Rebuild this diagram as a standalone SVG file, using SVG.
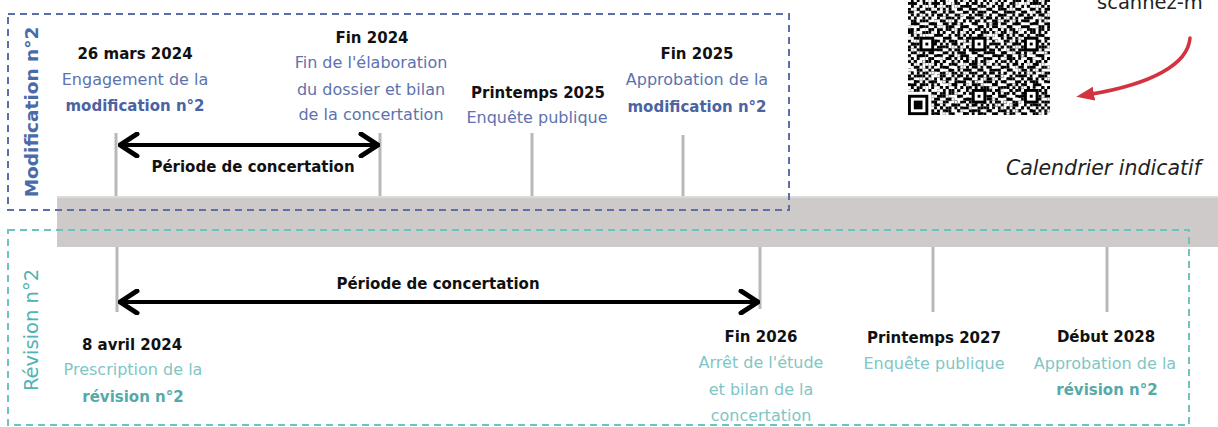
<svg xmlns="http://www.w3.org/2000/svg" width="1218" height="427" viewBox="0 0 1218 427">
<style>
text{font-family:"DejaVu Sans","Liberation Sans",sans-serif;text-anchor:middle}
.h{font-weight:bold;font-size:15px;fill:#111}
.b{font-size:16px;fill:#5d72ae}
.bb{font-size:15px;font-weight:bold;fill:#4b62a3}
.t{font-size:16px;fill:#7fc6c4}
.tb{font-size:15px;font-weight:bold;fill:#55aaa8}
.tick{stroke:#b8b8b8;stroke-width:3}
.dbl{stroke:#000;stroke-width:4;fill:none;marker-start:url(#chev);marker-end:url(#chev)}
.w{fill:#fff}
</style>
<defs>
<marker id="chev" viewBox="0 0 22 26" refX="20" refY="13" markerWidth="22" markerHeight="26" markerUnits="userSpaceOnUse" orient="auto-start-reverse">
<path d="M3,2 L20,13 L3,24" fill="none" stroke="#000" stroke-width="5" stroke-linecap="round" stroke-linejoin="round"/>
</marker>
<marker id="redhead" viewBox="0 0 18 14" refX="2" refY="7" markerWidth="18" markerHeight="14" markerUnits="userSpaceOnUse" orient="auto">
<path d="M0,0 L18,7 L0,14 z" fill="#d2343f"/>
</marker>
<pattern id="qa" patternUnits="userSpaceOnUse" x="908" y="-27" width="14.5" height="14.5">
<rect x="0" y="0" width="2.95" height="2.95"/><rect x="5.8" y="0" width="2.95" height="2.95"/>
<rect x="2.9" y="2.9" width="2.95" height="2.95"/><rect x="11.6" y="2.9" width="2.95" height="2.95"/>
<rect x="5.8" y="5.8" width="5.85" height="2.95"/>
<rect x="0" y="8.7" width="2.95" height="2.95"/><rect x="11.6" y="8.7" width="2.95" height="2.95"/>
<rect x="2.9" y="11.6" width="2.95" height="2.95"/><rect x="8.7" y="11.6" width="2.95" height="2.95"/>
</pattern>
<pattern id="qb" patternUnits="userSpaceOnUse" x="908" y="-27" width="20.3" height="20.3">
<rect x="8.7" y="0" width="5.85" height="2.95"/>
<rect x="0" y="2.9" width="2.95" height="2.95"/><rect x="17.4" y="2.9" width="2.95" height="2.95"/>
<rect x="5.8" y="5.8" width="2.95" height="2.95"/><rect x="14.5" y="5.8" width="2.95" height="2.95"/>
<rect x="2.9" y="8.7" width="5.85" height="2.95"/>
<rect x="11.6" y="11.6" width="2.95" height="2.95"/><rect x="17.4" y="11.6" width="2.95" height="2.95"/>
<rect x="0" y="14.5" width="2.95" height="2.95"/><rect x="8.7" y="14.5" width="2.95" height="2.95"/>
<rect x="2.9" y="17.4" width="2.95" height="2.95"/><rect x="14.5" y="17.4" width="2.95" height="2.95"/>
</pattern>
<pattern id="qc" patternUnits="userSpaceOnUse" x="908" y="-27" width="31.9" height="31.9">
<rect class="w" x="0" y="0" width="2.9" height="2.9"/><rect class="w" x="14.5" y="0" width="2.9" height="2.9"/>
<rect class="w" x="23.2" y="2.9" width="2.9" height="2.9"/><rect class="w" x="5.8" y="2.9" width="2.9" height="2.9"/>
<rect class="w" x="29" y="5.8" width="2.9" height="2.9"/><rect class="w" x="11.6" y="8.7" width="2.9" height="2.9"/>
<rect class="w" x="20.3" y="8.7" width="2.9" height="2.9"/><rect class="w" x="2.9" y="11.6" width="2.9" height="2.9"/>
<rect class="w" x="26.1" y="14.5" width="2.9" height="2.9"/><rect class="w" x="8.7" y="14.5" width="2.9" height="2.9"/>
<rect class="w" x="17.4" y="17.4" width="2.9" height="2.9"/><rect class="w" x="0" y="20.3" width="2.9" height="2.9"/>
<rect class="w" x="29" y="20.3" width="2.9" height="2.9"/><rect class="w" x="14.5" y="23.2" width="2.9" height="2.9"/>
<rect class="w" x="5.8" y="26.1" width="2.9" height="2.9"/><rect class="w" x="23.2" y="26.1" width="2.9" height="2.9"/>
<rect class="w" x="11.6" y="29" width="2.9" height="2.9"/><rect class="w" x="20.3" y="29" width="2.9" height="2.9"/>
</pattern>
</defs>
<rect width="1218" height="427" fill="#fff"/>
<g id="band"><rect x="57" y="196" width="1161" height="51" fill="#cdcac9"/><rect x="57" y="196" width="1161" height="2" fill="#dddbda"/></g>
<g id="box-modification">
<rect x="8" y="14" width="781" height="196" fill="none" stroke="#5a70a6" stroke-width="2" stroke-dasharray="7 5"/>
<text transform="translate(38,112) rotate(-90)" style="font-size:18.5px;font-weight:bold;fill:#4a6aa8">Modification n°2</text>
</g>
<g id="box-revision">
<rect x="8" y="230" width="1181" height="195" fill="none" stroke="#6cc3c0" stroke-width="2" stroke-dasharray="7 5"/>
<text transform="translate(38,330) rotate(-90)" style="font-size:19.5px;fill:#4fb3b3">Révision n°2</text>
</g>
<g id="qr">
<rect x="908" y="-27" width="142" height="142" fill="#fff"/>
<rect x="908" y="-27" width="142" height="142" fill="url(#qa)"/>
<rect x="908" y="-27" width="142" height="142" fill="url(#qb)"/>
<rect x="908" y="-27" width="142" height="142" fill="url(#qc)"/>
<rect x="925.4" y="-3.8" width="2.9" height="95.7" fill="#fff"/>
<line x1="926.85" y1="-3.8" x2="926.85" y2="89" stroke="#000" stroke-width="2.9" stroke-dasharray="2.9 2.9"/>
<rect x="908" y="91.9" width="23.2" height="23.2" fill="#fff"/>
<rect x="908" y="94.8" width="20.3" height="20.3" fill="#000"/>
<rect x="910.9" y="97.7" width="14.5" height="14.5" fill="#fff"/>
<rect x="913.8" y="100.6" width="8.7" height="8.7" fill="#000"/>
<g>
<rect x="919.6" y="36.8" width="14.5" height="14.5" fill="#000"/><rect x="922.5" y="39.7" width="8.7" height="8.7" fill="#fff"/><rect x="925.4" y="42.6" width="2.9" height="2.9" fill="#000"/>
<rect x="971.8" y="36.8" width="14.5" height="14.5" fill="#000"/><rect x="974.7" y="39.7" width="8.7" height="8.7" fill="#fff"/><rect x="977.6" y="42.6" width="2.9" height="2.9" fill="#000"/>
<rect x="1024" y="36.8" width="14.5" height="14.5" fill="#000"/><rect x="1026.9" y="39.7" width="8.7" height="8.7" fill="#fff"/><rect x="1029.8" y="42.6" width="2.9" height="2.9" fill="#000"/>
<rect x="971.8" y="89" width="14.5" height="14.5" fill="#000"/><rect x="974.7" y="91.9" width="8.7" height="8.7" fill="#fff"/><rect x="977.6" y="94.8" width="2.9" height="2.9" fill="#000"/>
<rect x="1024" y="89" width="14.5" height="14.5" fill="#000"/><rect x="1026.9" y="91.9" width="8.7" height="8.7" fill="#fff"/><rect x="1029.8" y="94.8" width="2.9" height="2.9" fill="#000"/>
</g>
</g>
<g id="scan-label"><text x="1097" y="9" style="text-anchor:start;font-size:19.5px;fill:#222">scannez-m</text></g>
<g id="calendrier"><text x="1201" y="175" style="text-anchor:end;font-size:20.5px;font-style:italic;fill:#222">Calendrier indicatif</text></g>
<g id="connectors">
<line class="tick" x1="116" y1="133" x2="116" y2="196"/>
<line class="tick" x1="380" y1="133" x2="380" y2="196"/>
<line class="tick" x1="532" y1="133" x2="532" y2="196"/>
<line class="tick" x1="683" y1="135" x2="683" y2="196"/>
<line class="tick" x1="117" y1="247" x2="117" y2="312"/>
<line class="tick" x1="760" y1="247" x2="760" y2="309"/>
<line class="tick" x1="933" y1="247" x2="933" y2="312"/>
<line class="tick" x1="1107" y1="247" x2="1107" y2="312"/>
<line class="dbl" x1="120" y1="145" x2="378" y2="145"/>
<line class="dbl" x1="120" y1="302" x2="758" y2="302"/>
<path d="M1190,38 C1188,65 1150,84 1092,94" fill="none" stroke="#d2343f" stroke-width="3.5" stroke-linecap="round" marker-end="url(#redhead)"/>
</g>
<g id="period-mod"><text class="h" x="253" y="172">Période de concertation</text></g>
<g id="period-rev"><text class="h" x="438" y="289">Période de concertation</text></g>
<g id="ev-mod-1">
<text class="h" x="135" y="59">26 mars 2024</text>
<text class="b" x="135" y="85">Engagement de la</text>
<text class="bb" x="135" y="111">modification n°2</text>
</g>
<g id="ev-mod-2">
<text class="h" x="372" y="43">Fin 2024</text>
<text class="b" x="371" y="68">Fin de l'élaboration</text>
<text class="b" x="371" y="95">du dossier et bilan</text>
<text class="b" x="371" y="120">de la concertation</text>
</g>
<g id="ev-mod-3">
<text class="h" x="538" y="98">Printemps 2025</text>
<text class="b" x="537" y="123">Enquête publique</text>
</g>
<g id="ev-mod-4">
<text class="h" x="697" y="59">Fin 2025</text>
<text class="b" x="697" y="85">Approbation de la</text>
<text class="bb" x="697" y="112">modification n°2</text>
</g>
<g id="ev-rev-1">
<text class="h" x="132" y="350">8 avril 2024</text>
<text class="t" x="133" y="375">Prescription de la</text>
<text class="tb" x="133" y="402">révision n°2</text>
</g>
<g id="ev-rev-2">
<text class="h" x="761" y="342">Fin 2026</text>
<text class="t" x="761" y="368">Arrêt de l'étude</text>
<text class="t" x="761" y="395">et bilan de la</text>
<text class="t" x="761" y="421">concertation</text>
</g>
<g id="ev-rev-3">
<text class="h" x="934" y="343">Printemps 2027</text>
<text class="t" x="934" y="369">Enquête publique</text>
</g>
<g id="ev-rev-4">
<text class="h" x="1106" y="342">Début 2028</text>
<text class="t" x="1105" y="369">Approbation de la</text>
<text class="tb" x="1107" y="395">révision n°2</text>
</g>
</svg>
